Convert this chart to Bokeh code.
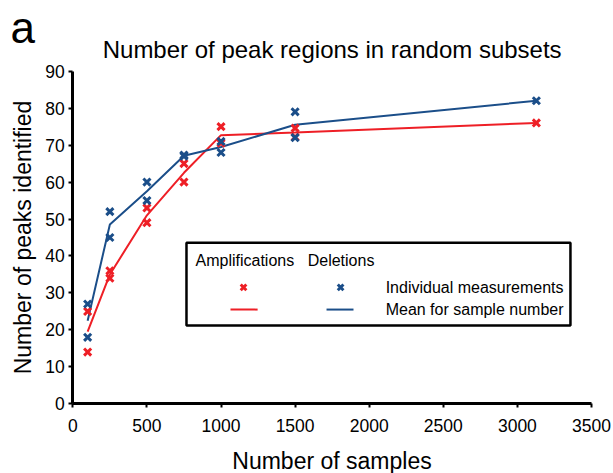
from bokeh.plotting import figure
from bokeh.models import Range1d, Label, BoxAnnotation, FixedTicker
from bokeh.embed import file_html
from bokeh.resources import INLINE

# ---- data ----
amp_x = [100, 100, 250, 250, 500, 500, 750, 750, 1000, 1000, 1500, 1500, 3128]
amp_y = [14, 25, 34, 36, 49, 53, 60, 65, 70.5, 75, 72.2, 74.6, 76]
del_x = [100, 100, 250, 250, 500, 500, 750, 750, 1000, 1000, 1500, 1500, 3128]
del_y = [18, 27, 45, 52, 55, 60, 67, 67.3, 68, 71, 72, 79, 82]

mean_x = [100, 250, 500, 750, 1000, 1500, 3128]
amp_mean = [19.5, 35, 51, 62.5, 72.7, 73.4, 76]
del_mean = [22.5, 48.5, 57.5, 67.1, 69.5, 75.5, 82]

x_ticks = [0, 500, 1000, 1500, 2000, 2500, 3000, 3500]
y_ticks = [0, 10, 20, 30, 40, 50, 60, 70, 80, 90]

RED = "#EE1F26"
BLUE = "#1B4E89"
FONT = "Liberation Sans"

# The frame fills the whole canvas; the axes are pinned at x=0 / y=0 and
# bounded to the data extent, so the outer texts are not clipped.
p = figure(width=613, height=473, output_backend="svg", toolbar_location=None,
           x_range=Range1d(-488, 3648.5), y_range=Range1d(-18.86, 109.13),
           min_border_left=0, min_border_right=0, min_border_top=0, min_border_bottom=0)
p.outline_line_color = None
p.grid.visible = False
p.background_fill_color = "white"
p.border_fill_color = "white"

for ax in (p.xaxis[0], p.yaxis[0]):
    ax.fixed_location = 0
    ax.axis_line_width = 3
    ax.axis_line_color = "black"
    ax.major_tick_line_width = 2
    ax.major_tick_line_color = "black"
    ax.major_tick_out = 4
    ax.major_tick_in = 0
    ax.minor_tick_line_color = None
    ax.major_label_text_font = FONT
    ax.major_label_text_font_size = "17.5px"
    ax.major_label_text_color = "black"
    ax.axis_label_text_font = FONT
    ax.axis_label_text_font_size = "23px"
    ax.axis_label_text_font_style = "normal"
    ax.axis_label_text_color = "black"

p.xaxis[0].bounds = (x_ticks[0], x_ticks[-1])
p.yaxis[0].bounds = (y_ticks[0], y_ticks[-1])
p.xaxis[0].ticker = FixedTicker(ticks=x_ticks)
p.yaxis[0].ticker = FixedTicker(ticks=y_ticks)
p.xaxis[0].axis_label = "Number of samples"
p.yaxis[0].axis_label = "Number of peaks identified"
p.xaxis[0].major_label_standoff = 11
p.yaxis[0].major_label_standoff = 4
p.xaxis[0].axis_label_standoff = 13
p.yaxis[0].axis_label_standoff = 6

# legend frame (drawn under the data)
p.add_layout(BoxAnnotation(left=767, right=3358, bottom=21.2, top=43.6,
                           fill_color="white", fill_alpha=1.0,
                           line_color="black", line_alpha=1.0, line_width=2.5,
                           level="underlay"))

# mean lines
p.line(mean_x, amp_mean, line_color=RED, line_width=2)
p.line(mean_x, del_mean, line_color=BLUE, line_width=2)
# individual measurements
p.scatter(amp_x, amp_y, marker="x", size=10, line_color=RED, line_width=3)
p.scatter(del_x, del_y, marker="x", size=10, line_color=BLUE, line_width=3)

# title and panel letter
p.add_layout(Label(x=1750, y=95.9, text="Number of peak regions in random subsets",
                   text_font=FONT, text_font_size="24px", text_color="black",
                   text_align="center", text_baseline="middle"))
p.add_layout(Label(x=-420, y=101.9, text="a", text_font=FONT, text_font_size="44px",
                   text_color="black", text_baseline="middle"))

for txt, lx, ly in [("Amplifications", 828, 38.8), ("Deletions", 1585, 38.8),
                    ("Individual measurements", 2111, 31.5),
                    ("Mean for sample number", 2111, 25.5)]:
    p.add_layout(Label(x=lx, y=ly, text=txt, text_font=FONT, text_font_size="16px",
                       text_color="black", text_baseline="middle"))

p.scatter([1152], [31.5], marker="x", size=8, line_color=RED, line_width=3)
p.scatter([1807], [31.5], marker="x", size=8, line_color=BLUE, line_width=3)
p.line([1064, 1247], [25.5, 25.5], line_color=RED, line_width=2)
p.line([1712, 1894], [25.5, 25.5], line_color=BLUE, line_width=2)

open("out.html", "w").write(file_html(p, INLINE))
